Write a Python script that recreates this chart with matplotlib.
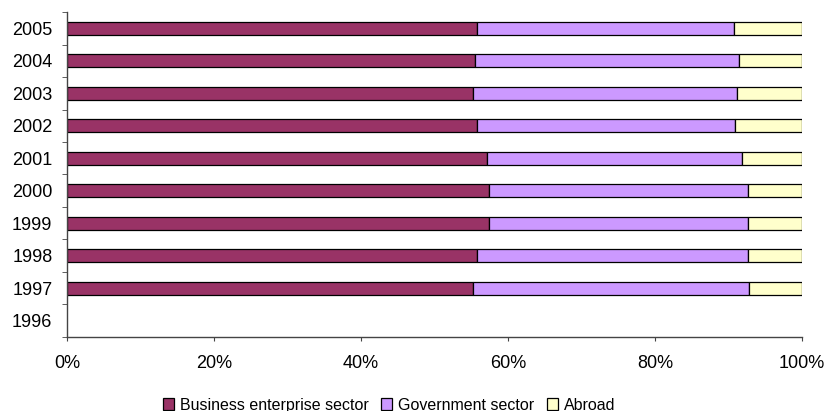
import numpy as np
import matplotlib
matplotlib.use("Agg")
import matplotlib.pyplot as plt
from matplotlib.ticker import FixedLocator, PercentFormatter

plt.rcParams['font.family'] = ['Liberation Sans', 'DejaVu Sans']

# Data (shares of R&D funding, %), 1996 has no data
years = ['1996', '1997', '1998', '1999', '2000', '2001', '2002', '2003', '2004', '2005']
business = [np.nan, 55.3, 55.8, 57.4, 57.4, 57.2, 55.8, 55.3, 55.5, 55.8]
government = [np.nan, 37.5, 36.9, 35.2, 35.2, 34.6, 35.1, 35.8, 35.9, 34.9]
abroad = [np.nan, 7.2, 7.3, 7.4, 7.4, 8.2, 9.1, 8.9, 8.6, 9.3]

labels = ['Business enterprise sector', 'Government sector', 'Abroad']
colors = ['#993366', '#CC99FF', '#FFFFCC']

fig = plt.figure(figsize=(8.25, 4.11), dpi=100)
ax = fig.add_axes([67 / 825, 1 - 336.7 / 411, 735 / 825, (336.7 - 12.3) / 411])

y = np.arange(len(years))
b = np.array(business)
g = np.array(government)
a = np.array(abroad)

ax.barh(y, b, height=0.4, color=colors[0], edgecolor='black', linewidth=0.9, label=labels[0])
ax.barh(y, g, left=b, height=0.4, color=colors[1], edgecolor='black', linewidth=0.9, label=labels[1])
ax.barh(y, a, left=b + g, height=0.4, color=colors[2], edgecolor='black', linewidth=0.9, label=labels[2])

ax.set_xlim(0, 100)
ax.set_ylim(-0.5, len(years) - 0.5)
ax.set_xticks([0, 20, 40, 60, 80, 100])
ax.xaxis.set_major_formatter(PercentFormatter(decimals=0))
ax.set_yticks(y)
ax.set_yticklabels(years)
ax.yaxis.set_minor_locator(FixedLocator(np.arange(-0.5, len(years), 1)))
ax.tick_params(axis='y', which='major', length=0, pad=10.5, labelsize=13)
ax.tick_params(axis='y', which='minor', length=3.5, color='#444444')
ax.tick_params(axis='x', length=3, color='#444444', pad=10, labelsize=13)

for s in ['top', 'right']:
    ax.spines[s].set_visible(False)
for s in ['left', 'bottom']:
    ax.spines[s].set_color('#444444')
    ax.spines[s].set_linewidth(1.0)

fig.legend(loc='center', bbox_to_anchor=(389 / 825, 1 - 405 / 411), ncol=3, frameon=False,
           fontsize=11.5, handlelength=0.7, handleheight=0.7, handletextpad=0.35, columnspacing=0.8,
           borderpad=0)

fig.savefig('out.png', dpi=100)
